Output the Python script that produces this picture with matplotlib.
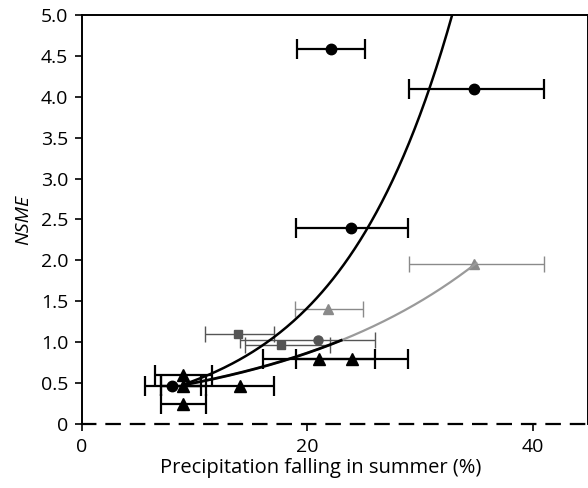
import numpy as np
import matplotlib
matplotlib.use("Agg")
import matplotlib.pyplot as plt

plt.rcParams['font.family'] = ['Open Sans', 'DejaVu Sans']

# Black series: circles
bc_x = [22.1, 34.8, 23.9, 7.95]
bc_y = [4.58, 4.10, 2.39, 0.47]
bc_xlo = [19.1, 29.0, 19.0, 5.6]
bc_xhi = [25.1, 41.0, 28.9, 10.6]

# Black series: triangles
bt_x = [9.0, 9.0, 14.0, 9.0, 21.0, 24.0]
bt_y = [0.60, 0.46, 0.47, 0.24, 0.80, 0.80]
bt_xlo = [6.5, 7.0, 7.0, 7.0, 16.1, 19.0]
bt_xhi = [11.5, 11.0, 17.0, 11.0, 26.0, 28.9]

# Grey series: triangles
gt_x = [21.85, 34.8]
gt_y = [1.41, 1.96]
gt_xlo = [18.9, 29.0]
gt_xhi = [24.9, 41.0]

# Grey series: squares
gs_x = [13.8, 17.7]
gs_y = [1.10, 0.97]
gs_xlo = [10.9, 14.5]
gs_xhi = [17.0, 22.0]

# Grey series: circle
gc_x = [20.9]
gc_y = [1.03]
gc_xlo = [14.0]
gc_xhi = [26.0]

# Exponential fits y = a*exp(b*x), with drawn x-range
fit_black_upper = (0.20, 0.098, 9.0, 33.0)
fit_black_lower = (0.292, 0.0545, 9.0, 23.0)
fit_grey = (0.292, 0.0545, 9.0, 35.0)

y_ticks = [0, 0.5, 1.0, 1.5, 2.0, 2.5, 3.0, 3.5, 4.0, 4.5, 5.0]
y_ticklabels = ['0', '0.5', '1.0', '1.5', '2.0', '2.5', '3.0', '3.5', '4.0', '4.5', '5.0']
x_ticks = [0, 20, 40]

fig = plt.figure(figsize=(5.88, 4.88), dpi=100)
ax = fig.add_axes([82/588, 1 - 424/488, (588 - 82)/588, (424 - 15)/488])

GREY = '#8a8a8a'
DGREY = '#555555'

def eb(x, y, lo, hi, marker, color, ms, lw, cap, z):
    x = np.asarray(x); lo = np.asarray(lo); hi = np.asarray(hi)
    ax.errorbar(x, y, xerr=[x - lo, hi - x], fmt=marker, color=color,
                ecolor=color, ms=ms, elinewidth=lw, capsize=cap, capthick=lw,
                zorder=z)

def curve(fit, color, lw, z):
    a, b, x0, x1 = fit
    xs = np.linspace(x0, x1, 200)
    ax.plot(xs, a * np.exp(b * xs), color=color, lw=lw, zorder=z)

# grey series
eb(gt_x, gt_y, gt_xlo, gt_xhi, '^', GREY, 6.5, 1.0, 6, 2)
eb(gs_x, gs_y, gs_xlo, gs_xhi, 's', DGREY, 5.5, 1.0, 6, 2)
eb(gc_x, gc_y, gc_xlo, gc_xhi, 'o', DGREY, 6.5, 1.0, 6, 2)
curve(fit_grey, '#9a9a9a', 1.6, 3)

# black series
curve(fit_black_upper, 'black', 1.8, 4)
curve(fit_black_lower, 'black', 2.0, 4)
eb(bc_x, bc_y, bc_xlo, bc_xhi, 'o', 'black', 7.5, 1.6, 7, 5)
eb(bt_x, bt_y, bt_xlo, bt_xhi, '^', 'black', 8.5, 1.6, 7, 5)

ax.set_xlim(0, 44.9)
ax.set_ylim(0, 5.0)
ax.set_xticks(x_ticks)
ax.set_xticklabels([str(t) for t in x_ticks])
ax.set_yticks(y_ticks)
ax.set_yticklabels(y_ticklabels)
ax.tick_params(direction='out', length=5, width=1.2, labelsize=14, colors='black', pad=5)

for s in ['left', 'top', 'right']:
    ax.spines[s].set_linewidth(1.4)
ax.spines['bottom'].set_linewidth(1.6)
ax.spines['bottom'].set_linestyle((0, (6, 5)))

ax.set_xlabel('Precipitation falling in summer (%)', fontsize=14.5)
ax.xaxis.set_label_coords((321 - 82) / 506, -0.082)
ax.set_ylabel('NSME', fontsize=14, style='italic', labelpad=6)

fig.savefig('out.png', dpi=100)
